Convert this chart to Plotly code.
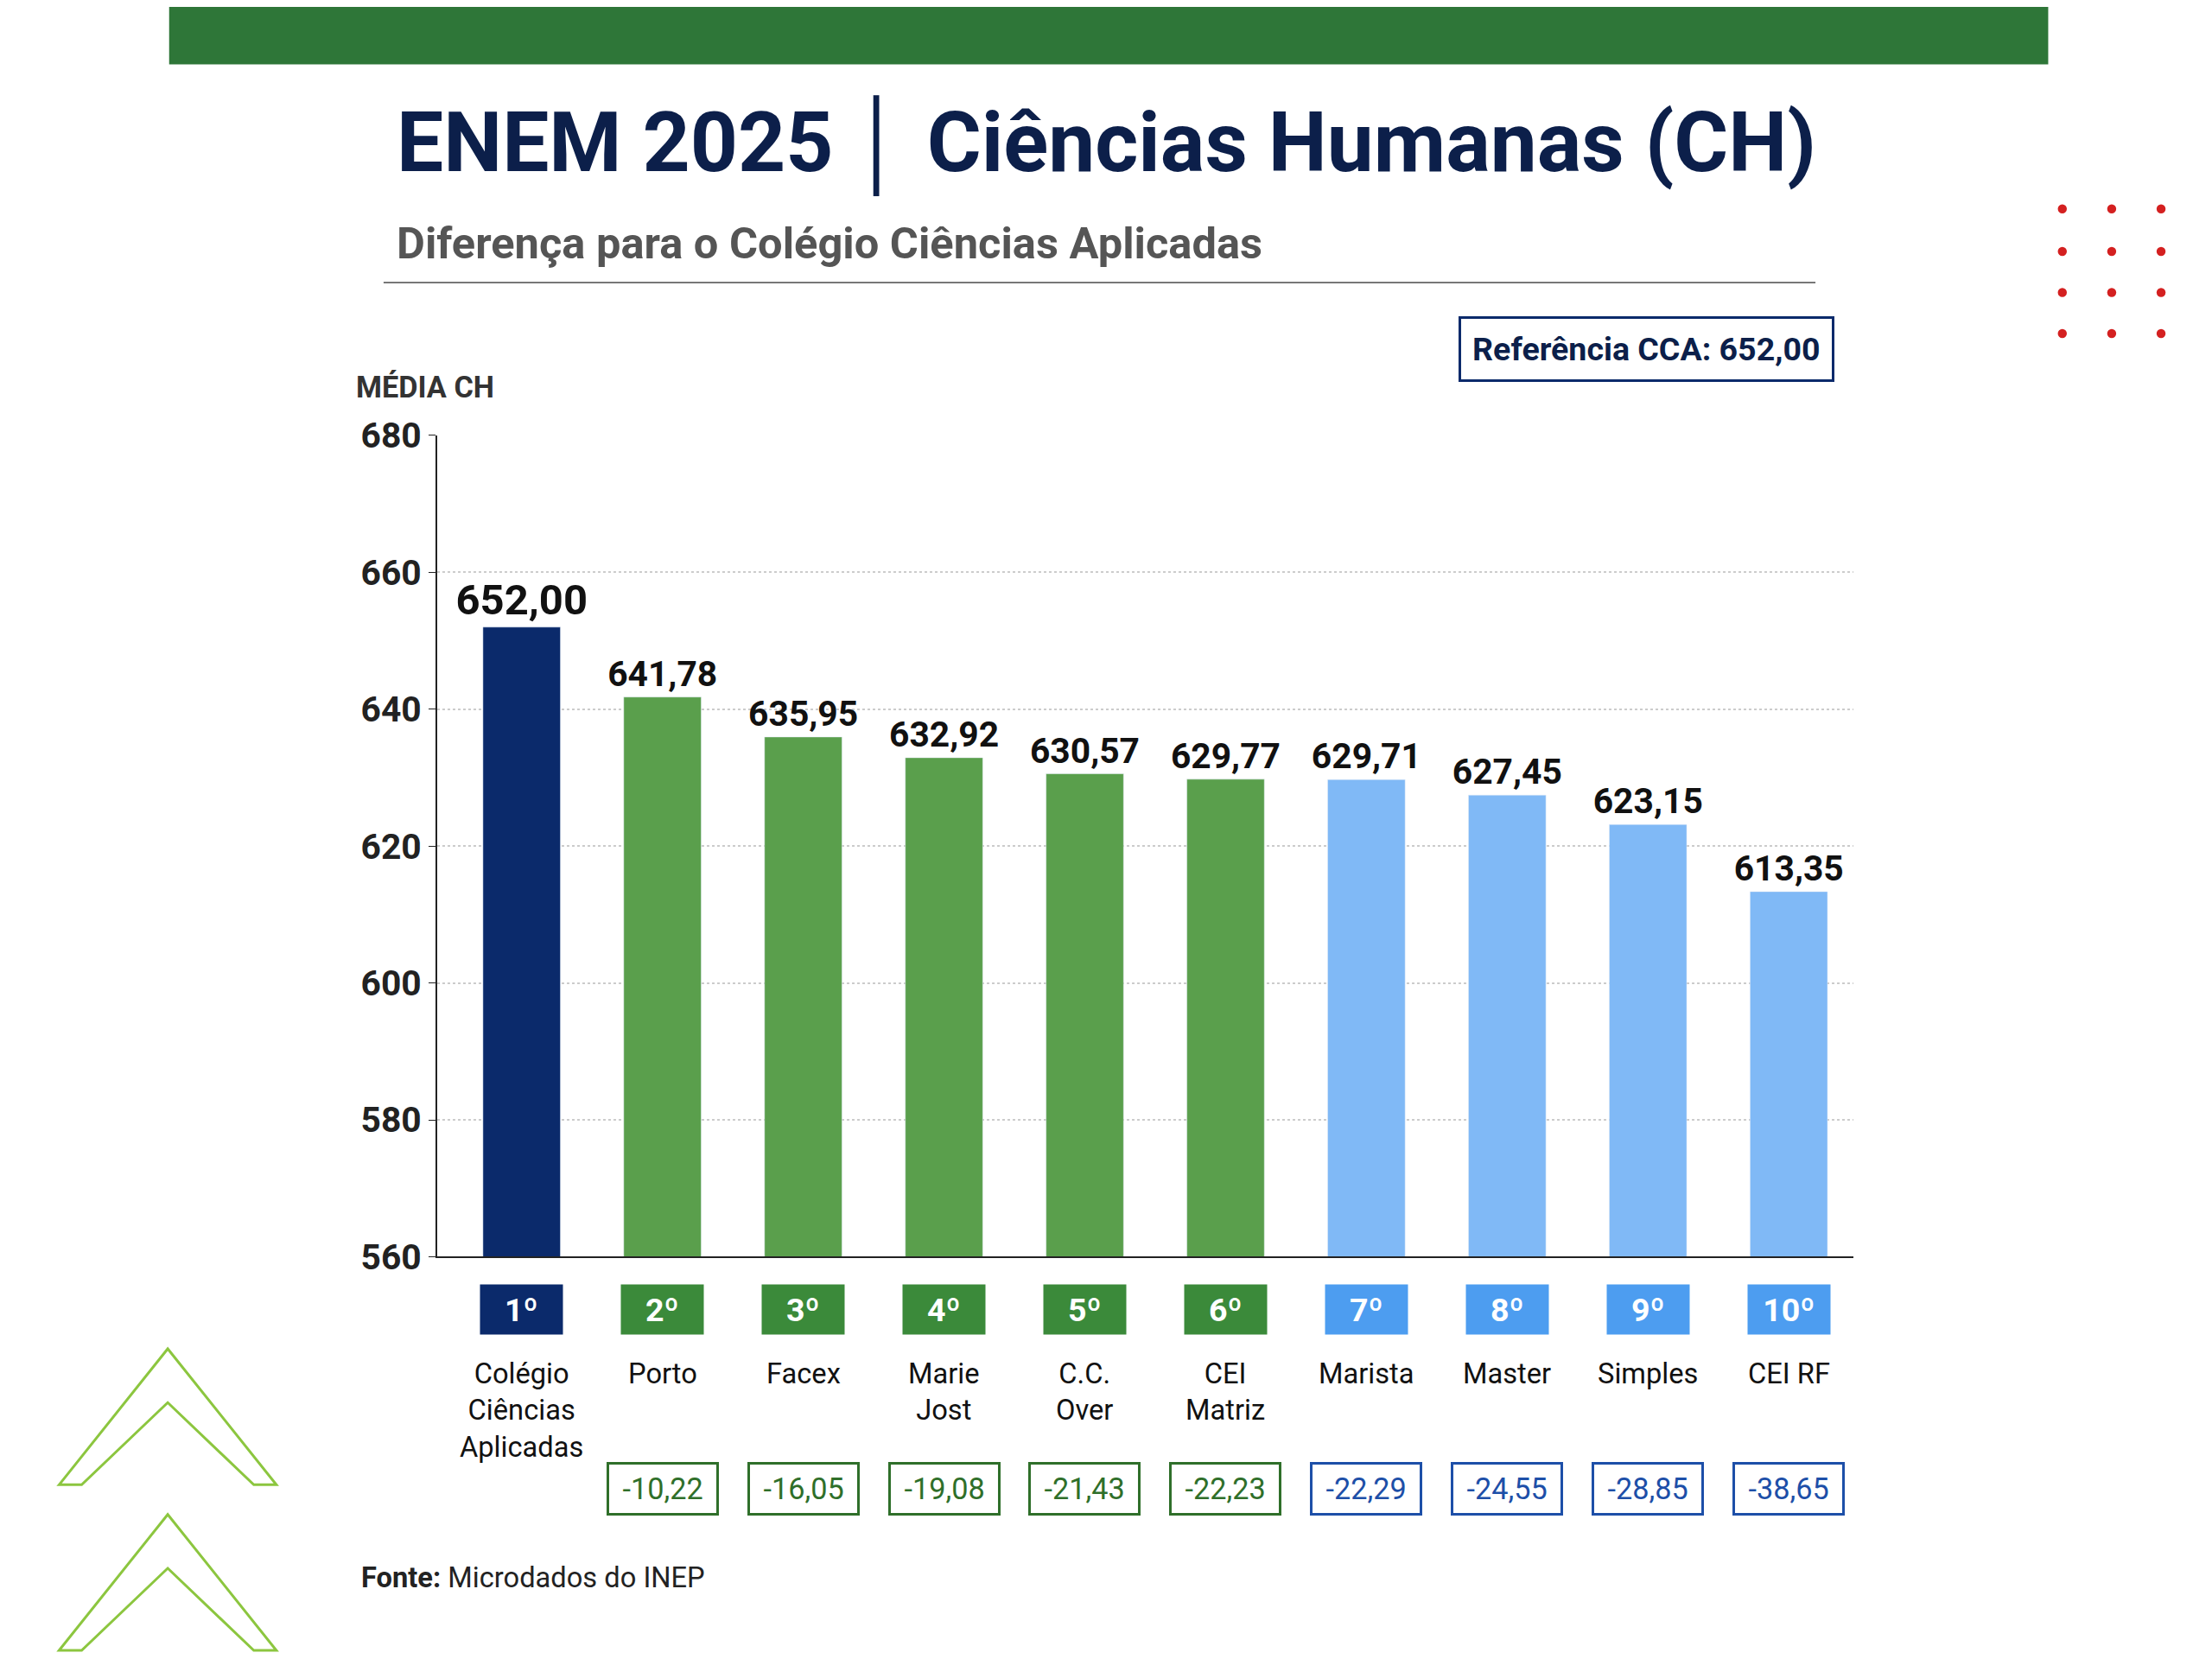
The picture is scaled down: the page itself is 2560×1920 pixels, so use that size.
import plotly.graph_objects as go

W, H = 2560, 1920
S = W / 1568.0

schools = ['Colégio<br>Ciências<br>Aplicadas', 'Porto', 'Facex', 'Marie<br>Jost', 'C.C.<br>Over',
           'CEI<br>Matriz', 'Marista', 'Master', 'Simples', 'CEI RF']
ranks = ['1º', '2º', '3º', '4º', '5º', '6º', '7º', '8º', '9º', '10º']
scores = [652.00, 641.78, 635.95, 632.92, 630.57, 629.77, 629.71, 627.45, 623.15, 613.35]
diffs = [None, '-10,22', '-16,05', '-19,08', '-21,43', '-22,23', '-22,29', '-24,55', '-28,85', '-38,65']
groups = ['ref', 'g', 'g', 'g', 'g', 'g', 'b', 'b', 'b', 'b']

NAVY = '#0b2a6b'
bar_col = {'ref': NAVY, 'g': '#5a9f4c', 'b': '#80b9f6'}
badge_col = {'ref': NAVY, 'g': '#3b8a3a', 'b': '#4d9df0'}
diff_col = {'g': '#2f6f2a', 'b': '#1d4fa8'}
FONT = 'Roboto, sans-serif'


# reference pixel -> paper coords (corrected for page offset seen in render)
def px(x):
    return (x - 3) / 1568.0


def py(y):
    return 1 - (y - 22) / 0.978 / 1168.0


def fs(v):
    return v * S


x = list(range(len(scores)))
labels = [('%.2f' % v).replace('.', ',') for v in scores]

fig = go.Figure(go.Bar(
    x=x, y=scores, width=0.55,
    marker_color=[bar_col[g] for g in groups],
    text=labels, textposition='outside', cliponaxis=False, constraintext='none',
    textfont=dict(family=FONT, size=[fs(30)] + [fs(25)] * 9, color='#111111', weight='bold'),
))

ann = []
shapes = []
for i in x:
    ann.append(dict(x=i, y=py(927), xref='x', yref='paper', yanchor='middle', text='<b>%s</b>' % ranks[i],
                    showarrow=False, bgcolor=badge_col[groups[i]],
                    font=dict(family=FONT, size=fs(23), color='white'), borderpad=fs(4), width=fs(50)))
    ann.append(dict(x=i, y=py(960), xref='x', yref='paper', yanchor='top', text=schools[i],
                    showarrow=False, font=dict(family=FONT, size=fs(20), color='#111111')))
    if diffs[i]:
        c = diff_col[groups[i]]
        ann.append(dict(x=i, y=py(1054), xref='x', yref='paper', yanchor='middle', text=diffs[i],
                        showarrow=False, bordercolor=c, borderwidth=3, borderpad=fs(5), width=fs(66),
                        font=dict(family=FONT, size=fs(21), color=c)))

ann += [
    dict(x=px(278), y=py(105), xref='paper', yref='paper', xanchor='left', yanchor='middle', showarrow=False,
         text='<b>ENEM 2025 │ Ciências Humanas (CH)</b>', font=dict(family=FONT, size=fs(59), color='#0c1f4a')),
    dict(x=px(278), y=py(174), xref='paper', yref='paper', xanchor='left', yanchor='middle', showarrow=False,
         text='<b>Diferença para o Colégio Ciências Aplicadas</b>', font=dict(family=FONT, size=fs(31), color='#555555')),
    dict(x=px(1165), y=py(249), xref='paper', yref='paper', xanchor='center', yanchor='middle', showarrow=False,
         text='<b>Referência CCA: 652,00</b>', bordercolor=NAVY, borderwidth=3, borderpad=fs(8),
         font=dict(family=FONT, size=fs(23), color='#0c1f4a')),
    dict(x=px(249), y=py(276), xref='paper', yref='paper', xanchor='left', yanchor='middle', showarrow=False,
         text='<b>MÉDIA CH</b>', font=dict(family=FONT, size=fs(21), color='#333333')),
    dict(x=px(253), y=py(1117), xref='paper', yref='paper', xanchor='left', yanchor='middle', showarrow=False,
         text='<b>Fonte:</b> Microdados do INEP', font=dict(family=FONT, size=fs(20), color='#222222')),
]

# top banner and title rule
shapes.append(dict(type='rect', xref='paper', yref='paper', x0=px(118), x1=px(1450), y0=py(48), y1=1.05,
                   fillcolor='#2e7638', line_width=0))
shapes.append(dict(type='line', xref='paper', yref='paper', x0=px(270), x1=px(1285), y0=py(202), y1=py(202),
                   line=dict(color='#777777', width=2)))
# red dots
for dy in [150, 180, 209, 238]:
    for dx in [1460, 1495, 1530, 1565]:
        r = 3.2
        shapes.append(dict(type='circle', xref='paper', yref='paper', x0=px(dx - r), x1=px(dx + r),
                           y0=py(dy + r), y1=py(dy - r), fillcolor='#d42020', line_width=0))
# green chevrons
for top in [955, 1072]:
    pts = [(40, top + 96), (117, top), (194, top + 96), (178, top + 96), (117, top + 38), (56, top + 96)]
    path = 'M ' + ' L '.join('%f,%f' % (px(a), py(b)) for a, b in pts) + ' Z'
    shapes.append(dict(type='path', xref='paper', yref='paper', path=path,
                       line=dict(color='#8cc63f', width=3), fillcolor='rgba(0,0,0,0)'))

fig.update_layout(
    width=W, height=H, margin=dict(l=0, r=0, t=0, b=0),
    paper_bgcolor='white', plot_bgcolor='white', showlegend=False,
    annotations=ann, shapes=shapes,
    xaxis=dict(domain=[px(308), px(1312)], range=[-0.6, 9.46], showticklabels=False, showgrid=False,
               showline=True, linecolor='#222222', linewidth=2, zeroline=False),
    yaxis=dict(domain=[py(890), py(310)], range=[560, 680], dtick=20, showline=True, linecolor='#222222',
               linewidth=2, ticks='outside', ticklen=8, tickcolor='#222222',
               gridcolor='#cccccc', griddash='dot', gridwidth=2, zeroline=False,
               tickfont=dict(family=FONT, size=fs(25), color='#222222', weight='bold')),
)

fig.write_html('out.html')
